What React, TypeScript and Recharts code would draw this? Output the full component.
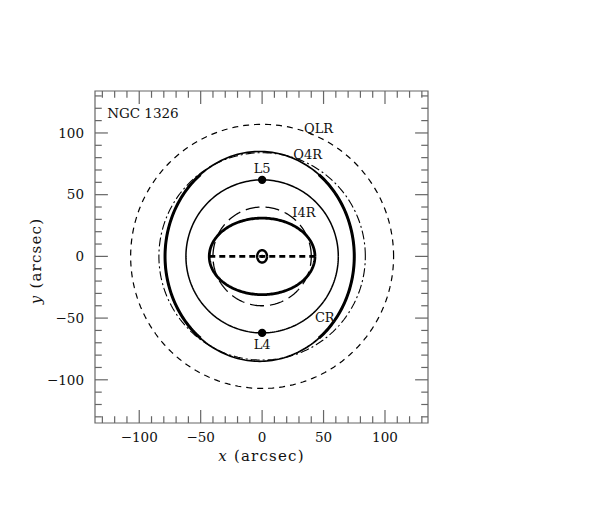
import { ScatterChart, Scatter, XAxis, YAxis, ReferenceLine, ReferenceArea } from 'recharts'

// axis ticks (arcsec)
const majorTicks = [-100, -50, 0, 50, 100]
const minorTicks = [-130, -120, -110, -90, -80, -70, -60, -40, -30, -20, -10, 10, 20, 30, 40, 60, 70, 80, 90, 110, 120, 130]

// resonance circles (radius in arcsec)
const resonanceNames = ['QLR', 'Q4R', 'CR', 'I4R']
const resonanceRadii = [107, 84, 62, 40]

// orbits: outer ring, bar orbit, nuclear orbit
const orbitNames = ['outer', 'bar', 'core']
const orbitCenterX = [-2, 0, 0]
const orbitSemiX = [77, 43, 4]
const orbitSemiY = [85, 31, 5]

// bar major axis
const barEnds = [-43, 43]

// Lagrangian points
const lagrangeNames = ['L4', 'L5']
const lagrangeY = [-62, 62]

// annotations
const noteText = ['NGC 1326', 'QLR', 'Q4R', 'L5', 'I4R', 'CR', 'L4']
const noteX = [-97, 46, 37, 0, 34, 51, 0]
const noteY = [116, 104, 83, 71, 36, -49, -71]

const X_DOMAIN: [number, number] = [-136, 135]
const Y_DOMAIN: [number, number] = [-135, 134]
const FONT = '"DejaVu Serif", "Liberation Serif", serif'
const FRAME = '#666'

function ellipse(cx: number, a: number, b: number, t0: number, t1: number, n = 240) {
  const pts = []
  for (let i = 0; i <= n; i++) {
    const t = t0 + ((t1 - t0) * i) / n
    pts.push({ x: cx + a * Math.cos(t), y: b * Math.sin(t) })
  }
  return pts
}

const circles = resonanceRadii.map((r) => ellipse(0, r, r, 0, Math.PI * 2))
const orbits = orbitNames.map((_, i) => ellipse(orbitCenterX[i], orbitSemiX[i], orbitSemiY[i], 0, Math.PI * 2))
// thick side arcs of the outer orbit
const thickLimit = Math.asin(0.78)
const outerRight = ellipse(orbitCenterX[0], orbitSemiX[0], orbitSemiY[0], -thickLimit, thickLimit, 80)
const outerLeft = ellipse(orbitCenterX[0], orbitSemiX[0], orbitSemiY[0], Math.PI - thickLimit, Math.PI + thickLimit, 80)
const barLine = barEnds.map((x) => ({ x, y: 0 }))
const lagrangePts = lagrangeNames.map((name, i) => ({ x: 0, y: lagrangeY[i], name }))
const notes = noteText.map((text, i) => ({ x: noteX[i], y: noteY[i], text }))

const circleStyles = [
  { strokeWidth: 1.2, strokeDasharray: '6 5' },
  { strokeWidth: 1.1, strokeDasharray: '9 3 2 3' },
  { strokeWidth: 1.5 },
  { strokeWidth: 1.3, strokeDasharray: '14 6' },
]

const noShape = () => <g />

function tickSegments() {
  const out: any[] = []
  const sides = (v: number, len: number, key: string) => {
    out.push(<ReferenceLine key={key + 'b'} segment={[{ x: v, y: Y_DOMAIN[0] }, { x: v, y: Y_DOMAIN[0] + len }]} stroke={FRAME} strokeWidth={1.2} />)
    out.push(<ReferenceLine key={key + 't'} segment={[{ x: v, y: Y_DOMAIN[1] }, { x: v, y: Y_DOMAIN[1] - len }]} stroke={FRAME} strokeWidth={1.2} />)
    out.push(<ReferenceLine key={key + 'l'} segment={[{ x: X_DOMAIN[0], y: v }, { x: X_DOMAIN[0] + len, y: v }]} stroke={FRAME} strokeWidth={1.2} />)
    out.push(<ReferenceLine key={key + 'r'} segment={[{ x: X_DOMAIN[1], y: v }, { x: X_DOMAIN[1] - len, y: v }]} stroke={FRAME} strokeWidth={1.2} />)
  }
  majorTicks.forEach((v) => sides(v, 10.5, 'M' + v))
  minorTicks.forEach((v) => sides(v, 5.5, 'm' + v))
  return out
}

const fmt = (v: number) => (v < 0 ? '\u2212' + Math.abs(v) : String(v))

export default function App() {
  return (
    <div style={{ position: 'absolute', left: 0, top: 0, background: '#fff' }}>
      <ScatterChart width={598} height={506} margin={{ top: 91, right: 170, bottom: 43, left: 35 }}>
        <XAxis
          type="number"
          dataKey="x"
          domain={X_DOMAIN}
          ticks={majorTicks}
          allowDataOverflow
          tickFormatter={fmt}
          tickLine={false}
          tickSize={0}
          tickMargin={9}
          height={40}
          axisLine={false}
          tick={{ fill: '#111', fontSize: 13.5, fontFamily: FONT }}
          label={{
            content: ({ viewBox }: any) => (
              <text x={viewBox.x + viewBox.width / 2} y={viewBox.y + 38} textAnchor="middle" fontFamily={FONT} fontSize={15} letterSpacing={1.2} fill="#111">
                <tspan fontStyle="italic">x</tspan> (arcsec)
              </text>
            ),
          }}
        />
        <YAxis
          type="number"
          dataKey="y"
          domain={Y_DOMAIN}
          ticks={majorTicks}
          allowDataOverflow
          tickFormatter={fmt}
          tickLine={false}
          tickSize={0}
          tickMargin={11}
          width={60}
          axisLine={false}
          tick={{ fill: '#111', fontSize: 13.5, fontFamily: FONT }}
          label={{
            content: ({ viewBox }: any) => {
              const cx = viewBox.x + 6
              const cy = viewBox.y + viewBox.height / 2 + 4
              return (
                <text x={cx} y={cy} transform={`rotate(-90 ${cx} ${cy})`} textAnchor="middle" fontFamily={FONT} fontSize={15} letterSpacing={1.2} fill="#111">
                  <tspan fontStyle="italic">y</tspan> (arcsec)
                </text>
              )
            },
          }}
        />
        <ReferenceArea x1={X_DOMAIN[0]} x2={X_DOMAIN[1]} y1={Y_DOMAIN[0]} y2={Y_DOMAIN[1]} fill="none" stroke={FRAME} strokeWidth={1.2} fillOpacity={0} />
        {tickSegments()}

        {circles.map((pts, i) => (
          <Scatter
            key={resonanceNames[i]}
            data={pts}
            fill="#000"
            line={{ stroke: '#000', ...circleStyles[i] }}
            shape={noShape}
            isAnimationActive={false}
          />
        ))}

        <Scatter data={orbits[0]} fill="#000" line={{ stroke: '#000', strokeWidth: 1.7 }} shape={noShape} isAnimationActive={false} />
        <Scatter data={outerRight} fill="#000" line={{ stroke: '#000', strokeWidth: 3 }} shape={noShape} isAnimationActive={false} />
        <Scatter data={outerLeft} fill="#000" line={{ stroke: '#000', strokeWidth: 3 }} shape={noShape} isAnimationActive={false} />
        <Scatter data={orbits[1]} fill="#000" line={{ stroke: '#000', strokeWidth: 2.8 }} shape={noShape} isAnimationActive={false} />
        <Scatter data={barLine} fill="#000" line={{ stroke: '#000', strokeWidth: 2.6, strokeDasharray: '6 4' }} shape={noShape} isAnimationActive={false} />
        <Scatter data={orbits[2]} fill="#000" line={{ stroke: '#000', strokeWidth: 2.4 }} shape={noShape} isAnimationActive={false} />
        <Scatter
          data={[{ x: 0, y: 0 }]}
          fill="#000"
          isAnimationActive={false}
          shape={(p: any) => <circle cx={p.cx} cy={p.cy} r={1.6} fill="#000" />}
        />
        <Scatter
          data={lagrangePts}
          fill="#000"
          isAnimationActive={false}
          shape={(p: any) => <circle cx={p.cx} cy={p.cy} r={4.2} fill="#000" />}
        />
        <Scatter
          data={notes}
          fill="#000"
          isAnimationActive={false}
          shape={(p: any) => (
            <text x={p.cx} y={p.cy} dy="0.36em" textAnchor="middle" fontFamily={FONT} fontSize={p.payload.text === 'NGC 1326' ? 13.5 : 13} fill="#111">
              {p.payload.text}
            </text>
          )}
        />
      </ScatterChart>
    </div>
  )
}
